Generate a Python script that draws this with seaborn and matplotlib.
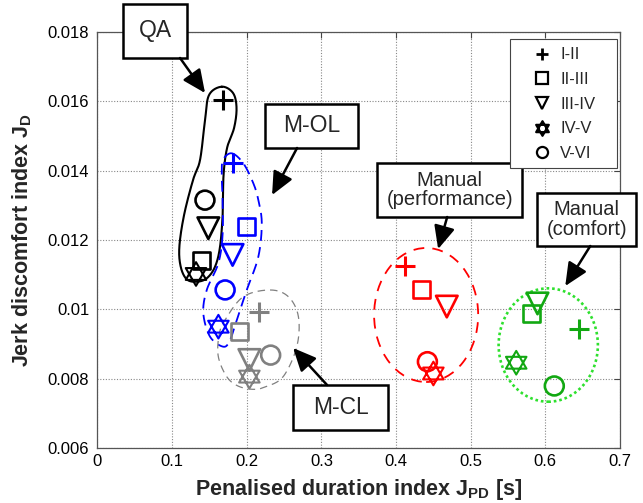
import numpy as np
import pandas as pd
import matplotlib
matplotlib.use("Agg")
import matplotlib.pyplot as plt
import seaborn as sns
from matplotlib.path import Path
from matplotlib.patches import Ellipse, Rectangle
from matplotlib.lines import Line2D

# ---------------- data ----------------
intervals = ["I-II", "II-III", "III-IV", "IV-V", "V-VI"]

# penalised duration index J_PD [s] and jerk discomfort index J_D per controller
qa_jpd = [0.1686, 0.1397, 0.1485, 0.1320, 0.1440]
qa_jd = [0.01604, 0.01142, 0.01234, 0.01102, 0.01315]

mol_jpd = [0.1810, 0.1990, 0.1810, 0.1620, 0.1710]
mol_jd = [0.01423, 0.01238, 0.01157, 0.00950, 0.01056]

mcl_jpd = [0.2170, 0.1900, 0.2035, 0.2035, 0.2320]
mcl_jd = [0.00993, 0.00935, 0.00854, 0.00806, 0.00868]

perf_jpd = [0.4120, 0.4337, 0.4680, 0.4500, 0.4420]
perf_jd = [0.01125, 0.01056, 0.01008, 0.00815, 0.00849]

comf_jpd = [0.6455, 0.5820, 0.5895, 0.5610, 0.6120]
comf_jd = [0.00942, 0.00989, 0.01017, 0.00846, 0.00779]

x_ticks = [0, 0.1, 0.2, 0.3, 0.4, 0.5, 0.6, 0.7]
x_tick_labels = ["0", "0.1", "0.2", "0.3", "0.4", "0.5", "0.6", "0.7"]
y_ticks = [0.006, 0.008, 0.010, 0.012, 0.014, 0.016, 0.018]
y_tick_labels = ["0.006", "0.008", "0.01", "0.012", "0.014", "0.016", "0.018"]

groups = {
    "QA": (qa_jpd, qa_jd),
    "M-OL": (mol_jpd, mol_jd),
    "M-CL": (mcl_jpd, mcl_jd),
    "Manual (performance)": (perf_jpd, perf_jd),
    "Manual (comfort)": (comf_jpd, comf_jd),
}

df = pd.concat(
    [pd.DataFrame({"JPD": x, "JD": y, "group": g, "interval": intervals})
     for g, (x, y) in groups.items()],
    ignore_index=True,
)

# ---------------- styling ----------------
marker_colors = {
    "QA": "#000000",
    "M-OL": "#0000ff",
    "M-CL": "#808080",
    "Manual (performance)": "#ff0000",
    "Manual (comfort)": "#12a812",
}


def hexagram_path():
    ang = np.deg2rad([90, 210, 330])
    up = np.c_[np.cos(ang), np.sin(ang)]
    down = -up
    verts = np.vstack([up, up[:1], down, down[:1]])
    codes = [Path.MOVETO, Path.LINETO, Path.LINETO, Path.CLOSEPOLY] * 2
    return Path(verts, codes)


HEX = hexagram_path()
marker_spec = {
    "I-II": ("+", 200),
    "II-III": ("s", 150),
    "III-IV": ("v", 240),
    "IV-V": (HEX, 290),
    "V-VI": ("o", 185),
}


def closed_curve(points, n=30):
    """Smooth closed Catmull-Rom curve through the given outline points."""
    P = np.asarray(points, float)
    m = len(P)
    t = np.linspace(0, 1, n, endpoint=False)[:, None]
    segs = []
    for i in range(m):
        p0, p1, p2, p3 = P[i - 1], P[i], P[(i + 1) % m], P[(i + 2) % m]
        segs.append(0.5 * (2 * p1 + (-p0 + p2) * t
                           + (2 * p0 - 5 * p1 + 4 * p2 - p3) * t ** 2
                           + (-p0 + 3 * p1 - 3 * p2 + p3) * t ** 3))
    out = np.vstack(segs)
    return np.vstack([out, out[:1]])


qa_outline = [
    (0.1665, 0.016422), (0.1816, 0.016240), (0.1863, 0.015808), (0.1830, 0.015231),
    (0.1736, 0.014654), (0.1689, 0.013875), (0.1678, 0.012779), (0.1642, 0.011807),
    (0.1575, 0.011230), (0.1464, 0.010895), (0.1330, 0.010797), (0.1196, 0.010866),
    (0.1115, 0.011230), (0.1097, 0.011807), (0.1160, 0.012721), (0.1280, 0.013731),
    (0.1374, 0.014308), (0.1441, 0.015462), (0.1495, 0.016183),
]
mol_outline = [
    (0.1799, 0.014501), (0.1954, 0.014212), (0.2088, 0.013636), (0.2155, 0.013154),
    (0.2201, 0.012482), (0.2155, 0.011518), (0.2000, 0.010558), (0.1866, 0.009692),
    (0.1776, 0.009115), (0.1686, 0.008922), (0.1508, 0.009211), (0.1418, 0.009886),
    (0.1464, 0.010558), (0.1619, 0.011328), (0.1676, 0.012144), (0.1676, 0.013154),
    (0.1665, 0.013875), (0.1682, 0.014308),
]
mcl_outline = [
    (0.2312, 0.010558), (0.2558, 0.010364), (0.2692, 0.009788), (0.2670, 0.008922),
    (0.2487, 0.008057), (0.2245, 0.007760), (0.2084, 0.007693), (0.1883, 0.007788),
    (0.1732, 0.008057), (0.1619, 0.008634), (0.1629, 0.009260), (0.1709, 0.009692),
    (0.1954, 0.010364),
]

sns.set_theme(style="white")
plt.rcParams["font.family"] = ["Liberation Sans", "DejaVu Sans"]
plt.rcParams["mathtext.fontset"] = "custom"
plt.rcParams["mathtext.bf"] = "Liberation Sans:bold"
plt.rcParams["mathtext.rm"] = "Liberation Sans"

fig = plt.figure(figsize=(6.43, 5.03), dpi=100)
ax = fig.add_axes([0.1516, 0.1093, 0.8126, 0.8271])
ax.set_xlim(0, 0.7)
ax.set_ylim(0.006, 0.018)

# group enclosures
c = closed_curve(qa_outline)
ax.plot(c[:, 0], c[:, 1], color="black", lw=1.5, zorder=2)
c = closed_curve(mol_outline)
ax.plot(c[:, 0], c[:, 1], color="#0000ff", lw=1.3, ls=(0, (6, 3.5)), zorder=2)
c = closed_curve(mcl_outline)
ax.plot(c[:, 0], c[:, 1], color="#808080", lw=0.9, ls=(0, (6, 4)), zorder=2)
ax.add_patch(Ellipse((0.4403, 0.009837), 0.1394, 0.003865, fill=False,
                     edgecolor="#ff0000", lw=1.3, ls=(0, (6, 4.5)), zorder=2))
ax.add_patch(Ellipse((0.6039, 0.008971), 0.1330, 0.003270, fill=False,
                     edgecolor="#2ee02e", lw=1.9, ls=(0, (1, 1.1)), zorder=2))

# data points
for g in groups:
    col = marker_colors[g]
    for iv in intervals:
        sub = df[(df["group"] == g) & (df["interval"] == iv)]
        mk, size = marker_spec[iv]
        if mk == "+":
            sns.scatterplot(data=sub, x="JPD", y="JD", marker=mk, s=size,
                            color=col, linewidth=2.2, ax=ax, legend=False,
                            zorder=4)
        else:
            lw = 1.5 if mk is HEX else 1.9
            sns.scatterplot(data=sub, x="JPD", y="JD", marker=mk, s=size,
                            facecolor="none", edgecolor=col, linewidth=lw,
                            ax=ax, legend=False, zorder=4)

# labelled boxes with arrows
boxes = [
    ("QA", (0.0342, 0.1200, 0.017250, 0.018808), 16.5,
     (0.1106, 0.017250), (0.1441, 0.016240)),
    ("M-OL", (0.2245, 0.3492, 0.014654, 0.015923), 16.5,
     (0.2674, 0.014654), (0.2339, 0.013298)),
    ("M-CL", (0.2621, 0.3894, 0.006519, 0.007817), 16.5,
     (0.3076, 0.007817), (0.2621, 0.008885)),
    ("Manual\n(performance)", (0.3747, 0.5690, 0.012663, 0.014221), 14.5,
     (0.4685, 0.012663), (0.4564, 0.011740)),
    ("Manual\n(comfort)", (0.5891, 0.7218, 0.011827, 0.013356), 14.5,
     (0.6602, 0.011827), (0.6267, 0.010673)),
]
for text, (x0, x1, y0, y1), fs, tail, tip in boxes:
    ax.add_patch(Rectangle((x0, y0), x1 - x0, y1 - y0, facecolor="white",
                           edgecolor="black", lw=1.8, zorder=6, clip_on=False))
    ax.text((x0 + x1) / 2, (y0 + y1) / 2, text, ha="center", va="center",
            fontsize=fs, zorder=7, linespacing=1.05, clip_on=False)
    ax.annotate("", xy=tip, xytext=tail,
                arrowprops=dict(arrowstyle="-|>,head_length=0.7,head_width=0.32",
                                mutation_scale=20, color="black", lw=1.8,
                                shrinkA=0, shrinkB=0),
                zorder=6, annotation_clip=False)

# axes formatting
ax.set_xticks(x_ticks)
ax.set_xticklabels(x_tick_labels)
ax.set_yticks(y_ticks)
ax.set_yticklabels(y_tick_labels)
ax.tick_params(axis="both", direction="in", length=4, width=0.8,
               colors="#444444", labelcolor="black", labelsize=12,
               top=True, right=True)
ax.tick_params(axis="x", pad=4)
ax.tick_params(axis="y", pad=6)
ax.grid(True, color="#888888", linestyle=(0, (1, 1.5)), linewidth=0.8)
ax.set_axisbelow(True)
for sp in ax.spines.values():
    sp.set_color("#555555")
    sp.set_linewidth(0.9)

ax.set_xlabel(r"Penalised duration index J$_{\mathbf{PD}}$ [s]",
              fontsize=15.5, fontweight="bold", labelpad=6)
ax.set_ylabel(r"Jerk discomfort index J$_{\mathbf{D}}$",
              fontsize=15.5, fontweight="bold", labelpad=10)

# legend: entries without frame, framed by a separate box
legend_size = {"I-II": 8, "II-III": 8, "III-IV": 8, "IV-V": 10.5, "V-VI": 8}
handles = [
    Line2D([], [], ls="none", marker=marker_spec[iv][0],
           markersize=legend_size[iv],
           markerfacecolor="none", markeredgecolor="black",
           markeredgewidth=2.0 if marker_spec[iv][0] == "+" else 1.6)
    for iv in intervals
]
leg = ax.legend(handles, intervals, loc="upper left",
                bbox_to_anchor=(0.8253, 0.963), frameon=False,
                fontsize=12, handlelength=1.6, handletextpad=0.28,
                borderpad=0, labelspacing=0.58, borderaxespad=0)
leg.set_zorder(8)
ax.add_patch(Rectangle((0.7895, 0.673), 0.9943 - 0.7895, 0.9832 - 0.673,
                       transform=ax.transAxes, facecolor="white",
                       edgecolor="#444444", lw=0.8, zorder=7))

fig.savefig("out.png", dpi=100)
